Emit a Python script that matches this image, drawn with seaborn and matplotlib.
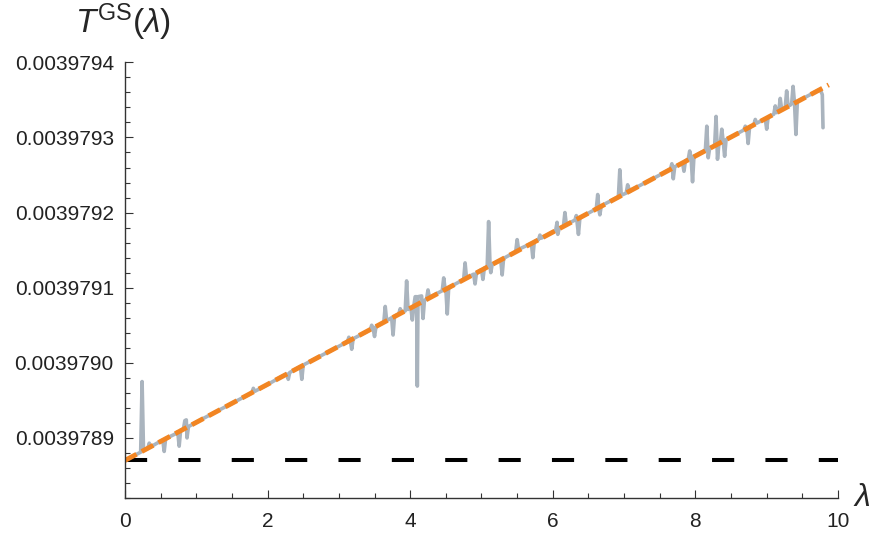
import numpy as np
import matplotlib
matplotlib.use("Agg")
import matplotlib.pyplot as plt
import seaborn as sns
from matplotlib.ticker import MultipleLocator

# values are stored as offsets above T0 = 0.0039788, in units of 1e-12

# noisy numerical data (grey)
lam_gray = [0.00, 0.10, 0.20, 0.22, 0.24, 0.26, 0.30, 0.32, 0.34, 0.36, 0.45, 0.53, 0.55, 0.57,
            0.70, 0.74, 0.76, 0.78, 0.82, 0.84, 0.86, 0.87, 0.89, 1.00, 1.20, 1.40, 1.60, 1.78,
            1.80, 1.82, 2.00, 2.20, 2.27, 2.29, 2.31, 2.46, 2.48, 2.50, 2.70, 2.90, 3.12, 3.14,
            3.16, 3.18, 3.20, 3.44, 3.46, 3.48, 3.50, 3.52, 3.63, 3.65, 3.67, 3.74, 3.76, 3.78,
            3.84, 3.86, 3.88, 3.93, 3.95, 3.97, 4.01, 4.03, 4.05, 4.07, 4.09, 4.10, 4.11, 4.16,
            4.18, 4.20, 4.23, 4.25, 4.27, 4.45, 4.47, 4.49, 4.50, 4.52, 4.54, 4.75, 4.77, 4.79,
            4.89, 4.91, 4.93, 5.00, 5.02, 5.04, 5.08, 5.10, 5.12, 5.13, 5.15, 5.27, 5.29, 5.31,
            5.48, 5.50, 5.52, 5.70, 5.72, 5.74, 5.80, 5.82, 5.84, 6.04, 6.06, 6.07, 6.09, 6.15,
            6.17, 6.19, 6.31, 6.33, 6.35, 6.36, 6.38, 6.61, 6.63, 6.65, 6.66, 6.68, 6.92, 6.94,
            6.96, 7.03, 7.05, 7.08, 7.10, 7.50, 7.65, 7.67, 7.69, 7.71, 7.82, 7.84, 7.86, 7.90,
            7.92, 7.94, 7.96, 7.98, 8.14, 8.16, 8.18, 8.20, 8.27, 8.29, 8.31, 8.33, 8.35, 8.37,
            8.39, 8.41, 8.43, 8.68, 8.70, 8.72, 8.74, 8.76, 8.82, 8.84, 8.86, 8.98, 9.00, 9.02,
            9.10, 9.12, 9.14, 9.17, 9.19, 9.21, 9.26, 9.28, 9.30, 9.33, 9.35, 9.37, 9.39, 9.41,
            9.43, 9.75, 9.78, 9.79]
off_gray = [70, 75, 80, 81, 175, 83, 85, 86, 93, 88, 93, 97, 82, 99,
            105, 108, 89, 110, 112, 123, 124, 100, 115, 121, 131, 141, 151, 160,
            166, 162, 171, 182, 185, 178, 187, 195, 178, 197, 207, 217, 228, 234,
            230, 218, 232, 244, 250, 246, 235, 248, 254, 275, 256, 260, 237, 262,
            265, 272, 267, 269, 309, 271, 273, 257, 275, 288, 288, 169, 288, 289,
            259, 283, 285, 297, 287, 296, 313, 298, 298, 265, 300, 311, 333, 313,
            318, 305, 320, 324, 311, 326, 328, 388, 329, 320, 331, 337, 317, 339,
            348, 364, 351, 359, 340, 361, 364, 370, 366, 376, 387, 371, 379, 382,
            400, 384, 390, 396, 380, 371, 393, 405, 424, 402, 397, 409, 421, 457,
            423, 426, 437, 428, 430, 450, 458, 465, 445, 461, 466, 455, 469, 471,
            482, 473, 441, 475, 483, 515, 473, 486, 489, 528, 471, 492, 493, 511,
            495, 475, 497, 510, 515, 512, 492, 514, 517, 524, 519, 525, 511, 527,
            531, 542, 533, 535, 552, 537, 540, 562, 542, 543, 545, 568, 546, 504,
            548, 564, 557, 513]

# linear fit (orange dashed)
lam_fit = [0.0, 9.87]
off_fit = [70, 570]

# lambda = 0 reference (black dashed)
lam_ref = [0.0, 10.0]
off_ref = [70, 70]

# y ticks in offset units, labelled with the real T values
y_tick_off = [100, 200, 300, 400, 500, 600]
y_tick_labels = ["0.0039789", "0.0039790", "0.0039791", "0.0039792", "0.0039793", "0.0039794"]
x_ticks = [0, 2, 4, 6, 8, 10]

sns.set_style("white")
plt.rcParams["font.family"] = ["Liberation Sans", "DejaVu Sans"]
plt.rcParams["mathtext.fontset"] = "custom"
plt.rcParams["mathtext.rm"] = "Liberation Sans"
plt.rcParams["mathtext.it"] = "Liberation Sans:italic"

fig = plt.figure(figsize=(8.74, 5.33), dpi=100)
ax = fig.add_axes([0.143, 0.0657, 0.8158, 0.818])

sns.lineplot(x=lam_ref, y=off_ref, ax=ax, color="black", lw=2.9,
             linestyle=(0, (5.5, 7.75)), estimator=None)
sns.lineplot(x=lam_gray, y=off_gray, ax=ax, color="#AAB4BE", lw=2.6, estimator=None)
sns.lineplot(x=lam_fit, y=off_fit, ax=ax, color="#F28522", lw=3.5,
             linestyle=(0, (2.7, 1.2)), estimator=None)

ax.set_xlim(0, 10)
ax.set_ylim(20, 600.5)

ax.set_xticks(x_ticks)
ax.set_xticklabels([str(v) for v in x_ticks])
ax.xaxis.set_minor_locator(MultipleLocator(0.5))
ax.set_yticks(y_tick_off)
ax.set_yticklabels(y_tick_labels)
ax.yaxis.set_minor_locator(MultipleLocator(20))

for s in ["top", "right"]:
    ax.spines[s].set_visible(False)
for s in ["left", "bottom"]:
    ax.spines[s].set_color("#333333")
    ax.spines[s].set_linewidth(1.0)

ax.tick_params(axis="both", which="both", direction="in", color="#333333",
               labelsize=15, labelcolor="#222222", bottom=True, left=True)
ax.tick_params(axis="both", which="major", length=6, width=0.8)
ax.tick_params(axis="both", which="minor", length=3.5, width=0.8)
ax.tick_params(axis="x", which="major", pad=10)
ax.tick_params(axis="y", which="major", pad=8)
ax.set_xlabel("")
ax.set_ylabel("")

fig.text(0.086, 0.937, r"$T^{\mathrm{GS}}(\lambda)$", fontsize=24, ha="left", va="baseline")
fig.text(0.986, 0.066, r"$\lambda$", fontsize=23, ha="center", va="center")

fig.savefig("out.png", dpi=100)
